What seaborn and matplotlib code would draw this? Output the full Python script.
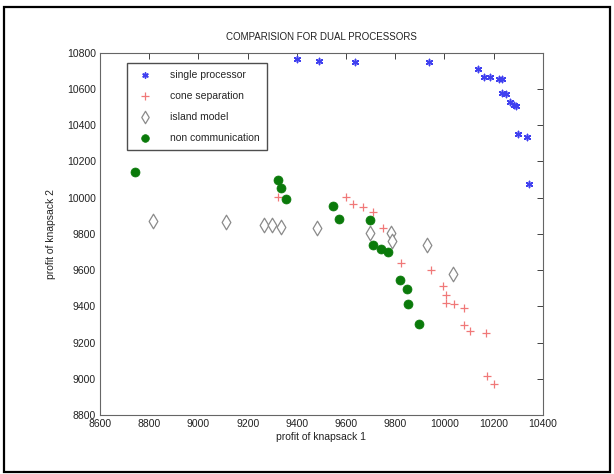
import matplotlib
matplotlib.use('Agg')
import matplotlib.pyplot as plt
import seaborn as sns
import pandas as pd
from matplotlib.patches import Rectangle

# values
single_x = [9402, 9489, 9636, 9938, 10137, 10160, 10185, 10220, 10236, 10236,
            10252, 10266, 10282, 10290, 10301, 10334, 10342]
single_y = [10764, 10756, 10750, 10750, 10708, 10668, 10664, 10653, 10653, 10576,
            10572, 10530, 10511, 10506, 10351, 10336, 10075]

cone_x = [9324, 9600, 9629, 9670, 9710, 9749, 9822, 9945, 9995, 10005, 10006,
          10038, 10079, 10079, 10106, 10170, 10174, 10202]
cone_y = [10002, 10002, 9963, 9948, 9921, 9831, 9637, 9600, 9512, 9462, 9417,
          9413, 9391, 9297, 9261, 9253, 9015, 8971]

island_x = [8814, 9112, 9266, 9298, 9334, 9480, 9697, 9781, 9785, 9930, 10035]
island_y = [9873, 9867, 9849, 9849, 9836, 9831, 9806, 9803, 9762, 9738, 9578]

noncomm_x = [8741, 9322, 9337, 9356, 9548, 9570, 9697, 9708, 9743, 9770, 9819,
             9846, 9851, 9895]
noncomm_y = [10143, 10097, 10051, 9992, 9954, 9880, 9877, 9738, 9715, 9698, 9545,
             9494, 9411, 9302]

x_ticks = [8600, 8800, 9000, 9200, 9400, 9600, 9800, 10000, 10200, 10400]
y_ticks = [8800, 9000, 9200, 9400, 9600, 9800, 10000, 10200, 10400, 10600, 10800]

sns.set_style('white')
plt.rcParams['font.family'] = ['Liberation Sans', 'DejaVu Sans']

fig = plt.figure(figsize=(6.14, 4.74), dpi=100)
ax = fig.add_axes([0.163, 0.1245, 0.721, 0.7645])

df_s = pd.DataFrame({'x': single_x, 'y': single_y})
df_c = pd.DataFrame({'x': cone_x, 'y': cone_y})
df_i = pd.DataFrame({'x': island_x, 'y': island_y})
df_n = pd.DataFrame({'x': noncomm_x, 'y': noncomm_y})

sns.scatterplot(data=df_s, x='x', y='y', ax=ax, marker=(6, 2, 0), color='#4040f0',
                s=20, linewidth=1.1, label='single processor')
sns.scatterplot(data=df_c, x='x', y='y', ax=ax, marker='+', color='#f07878',
                s=40, linewidth=0.9, label='cone separation')
sns.scatterplot(data=df_i, x='x', y='y', ax=ax, marker='d', facecolor='white',
                edgecolor='#8a8a8a', s=55, linewidth=0.9, label='island model')
sns.scatterplot(data=df_n, x='x', y='y', ax=ax, marker='o', color='#0a7a0a',
                edgecolor='#0a7a0a', s=42, linewidth=0.5, label='non communication')

ax.set_xlim(8600, 10400)
ax.set_ylim(8800, 10800)
ax.set_xticks(x_ticks)
ax.set_yticks(y_ticks)
ax.tick_params(direction='in', length=4, width=0.6, top=True, right=True,
               labelsize=7.5, colors='#222222', pad=3)
for sp in ax.spines.values():
    sp.set_color('#666666')
    sp.set_linewidth(0.8)

ax.set_title('COMPARISION FOR DUAL PROCESSORS', fontsize=7, color='#222222', pad=9)
ax.set_xlabel('profit of knapsack 1', fontsize=7.5, color='#222222', labelpad=2)
ax.set_ylabel('profit of knapsack 2', fontsize=7.5, color='#222222', labelpad=8)

leg = ax.legend(loc='upper left', bbox_to_anchor=(0.06, 0.972), fontsize=7.5,
                frameon=True, fancybox=False, borderpad=0.7, labelspacing=1.05,
                handlelength=2.2, handletextpad=1.3, borderaxespad=0, markerscale=0.85)
leg.get_frame().set_edgecolor('#222222')
leg.get_frame().set_linewidth(1.0)

fig.patches.append(Rectangle((0.006, 0.004), 0.988, 0.982, transform=fig.transFigure,
                             fill=False, edgecolor='black', linewidth=1.6))

fig.savefig('out.png', dpi=100)
